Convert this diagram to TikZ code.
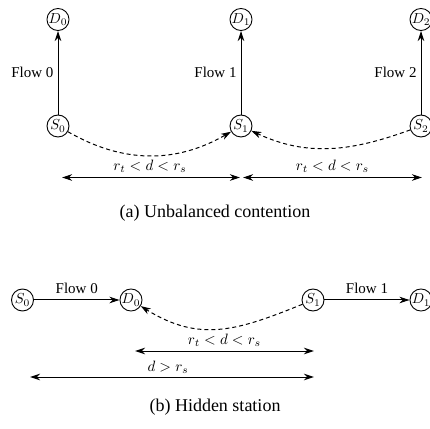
\documentclass[tikz,border=0pt]{standalone}
\usepackage{graphicx}
\usepackage{fontspec}
\setmainfont{Liberation Serif}
\usetikzlibrary{arrows.meta}
% math set at 10pt and enlarged to the label size
\newcommand\lblmath[1]{\scalebox{1.5}{\normalsize$#1$}}
\newcommand\stmath[1]{\scalebox{1.45}{\normalsize$#1$}}
\begin{document}
\begin{tikzpicture}[x=1pt,y=1pt,
  station/.style={circle,draw,line width=0.9pt,minimum size=22pt,inner sep=0pt},
  link/.style={line width=1pt,-{Stealth[length=10pt,width=6.5pt,inset=3pt]}},
  sense/.style={link,dashed,dash pattern=on 4pt off 3pt},
  span/.style={line width=1pt,{Stealth[length=10pt,width=6.5pt,inset=3pt]}-{Stealth[length=10pt,width=6.5pt,inset=3pt]}},
  lbl/.style={font=\fontsize{15}{18}\selectfont,inner sep=0pt},
  captext/.style={font=\fontsize{18}{22}\selectfont,inner sep=0pt}]
\useasboundingbox (0,0) rectangle (430,428);

% (a) three parallel flows
\node[station] (D0) at (58,408.5) {\stmath{D_0}};
\node[station] (S0) at (58,302) {\stmath{S_0}};
\node[station] (D1) at (241,408.5) {\stmath{D_1}};
\node[station] (S1) at (241,302) {\stmath{S_1}};
\node[station] (D2) at (421,408.5) {\stmath{D_2}};
\node[station] (S2) at (421,302) {\stmath{S_2}};

\draw[link] (S0) -- node[lbl,left=4pt] {Flow 0} (D0);
\draw[link] (S1) -- node[lbl,left=4pt] {Flow 1} (D1);
\draw[link] (S2) -- node[lbl,left=4pt] {Flow 2} (D2);

\draw[sense] (S0) to[out=-30,in=210] (S1);
\draw[sense] (S2) to[out=200,in=-25] (S1);

\coordinate (a0l) at (62,250.5);
\coordinate (a0r) at (240,250.5);
\coordinate (a1l) at (243,250.5);
\coordinate (a1r) at (422,250.5);
\draw[span] (a0l) -- (a0r);
\draw[span] (a1l) -- (a1r);
\node[lbl] (r0) at (150,262) {\lblmath{r_t < d < r_s}};
\node[lbl] (r1) at (332.5,262) {\lblmath{r_t < d < r_s}};

\node[captext] (capa) at (215,215) {(a) Unbalanced contention};

% (b) hidden station
\node[station] (hS0) at (22.5,128) {\stmath{S_0}};
\node[station] (hD0) at (131,128) {\stmath{D_0}};
\node[station] (hS1) at (313,128) {\stmath{S_1}};
\node[station] (hD1) at (421,128) {\stmath{D_1}};

\draw[link] (hS0) -- node[lbl,above=6pt] {Flow 0} (hD0);
\draw[link] (hS1) -- node[lbl,above=6pt] {Flow 1} (hD1);
\draw[sense] (hS1) to[out=202,in=-32,looseness=1.1] (hD0);

\coordinate (b0l) at (135,77);
\coordinate (b0r) at (314,77);
\coordinate (b1l) at (30,51);
\coordinate (b1r) at (314,51);
\draw[span] (b0l) -- (b0r);
\draw[span] (b1l) -- (b1r);
\node[lbl] (rb) at (224.5,88) {\lblmath{r_t < d < r_s}};
\node[lbl] (db) at (168,61) {\lblmath{d > r_s}};

\node[captext] (capb) at (215,21) {(b) Hidden station};
\end{tikzpicture}
\end{document}
